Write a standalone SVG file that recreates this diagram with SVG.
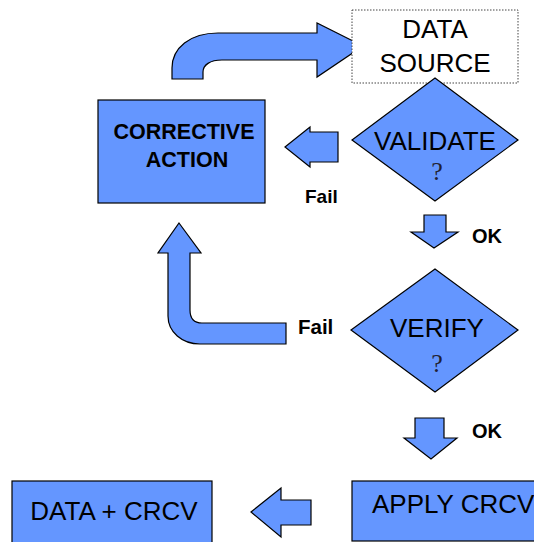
<svg xmlns="http://www.w3.org/2000/svg" width="534" height="542" viewBox="0 0 534 542">
  <style>
    .shape { fill: #6496FF; stroke: #000; stroke-width: 1.2; }
    .arrow { fill: #6496FF; stroke: #000; stroke-width: 1.2; stroke-linejoin: miter; }
    .src { fill: #fff; stroke: #444; stroke-width: 1; stroke-dasharray: 1.5 1.5; }
    .big { font-family: "Liberation Sans", Arial, sans-serif; font-size: 26px; fill: #000; text-anchor: middle; }
    .big.left { text-anchor: start; }
    .bold { font-family: "Liberation Sans", Arial, sans-serif; font-weight: bold; fill: #000; }
    .bold.mid { text-anchor: middle; }
    .q { font-family: "Liberation Serif", "Times New Roman", serif; font-size: 26px; fill: #223; text-anchor: middle; }
  </style>
  <rect width="534" height="542" fill="#fff"/>

  <!-- connectors: block arrows -->
  <g id="connectors">
    <!-- corrective action back to data source -->
    <path class="arrow" d="M172,79 L172,68 C172,48 190,33 218,33 L317,33 L317,23 L363,46 L317,77 L317,60 L222,60 C210,60 203,65 203,72 L203,79 Z"/>
    <!-- validate fail -->
    <path class="arrow" d="M285,147 L310,127 L310,132 L338,132 L338,162 L310,162 L310,167 Z"/>
    <!-- validate ok -->
    <path class="arrow" d="M424,215 L446,215 L446,232 L458,232 L434,248 L411,232 L424,232 Z"/>
    <!-- verify fail back to corrective action -->
    <path class="arrow" d="M179,223 L201,253 L190,253 L190,310 C190,318 194,323 202,323 L286,323 L286,344 L200,344 C182,344 168,332 168,316 L168,253 L158,253 Z"/>
    <!-- verify ok -->
    <path class="arrow" d="M415,418 L444,418 L444,438 L457,438 L431,459 L404,438 L415,438 Z"/>
    <!-- apply crcv to data + crcv -->
    <path class="arrow" d="M251,512 L281,488 L281,500 L311,500 L311,525 L281,525 L281,537 Z"/>
  </g>

  <g id="data-source">
    <rect class="src" x="352" y="10" width="166" height="73"/>
    <text class="big" x="435" y="38">DATA</text>
    <text class="big" x="435" y="72">SOURCE</text>
  </g>

  <g id="corrective-action">
    <rect class="shape" x="98" y="100" width="167" height="103"/>
    <text class="bold mid" x="184" y="139" font-size="21.5">CORRECTIVE</text>
    <text class="bold mid" x="187" y="167" font-size="21.5">ACTION</text>
  </g>

  <g id="validate">
    <polygon class="shape" points="435,78 518,140 435,201 352,140"/>
    <text class="big" x="435" y="150">VALIDATE</text>
    <text class="q" x="437" y="180">?</text>
  </g>

  <g id="verify">
    <polygon class="shape" points="435,269 518,330 435,392 351,330"/>
    <text class="big" x="437" y="337">VERIFY</text>
    <text class="q" x="437" y="372">?</text>
  </g>

  <g id="apply-crcv">
    <rect class="shape" x="352" y="481" width="190" height="60"/>
    <text class="big left" x="372" y="513">APPLY CRCV</text>
  </g>

  <g id="data-crcv">
    <rect class="shape" x="12" y="481" width="200" height="64"/>
    <text class="big" x="114" y="520">DATA + CRCV</text>
  </g>

  <!-- branch labels -->
  <g id="labels">
    <text class="bold" x="305" y="203" font-size="19">Fail</text>
    <text class="bold" x="472" y="243" font-size="20">OK</text>
    <text class="bold" x="298" y="334" font-size="20.5">Fail</text>
    <text class="bold" x="472" y="438" font-size="20">OK</text>
  </g>
</svg>
